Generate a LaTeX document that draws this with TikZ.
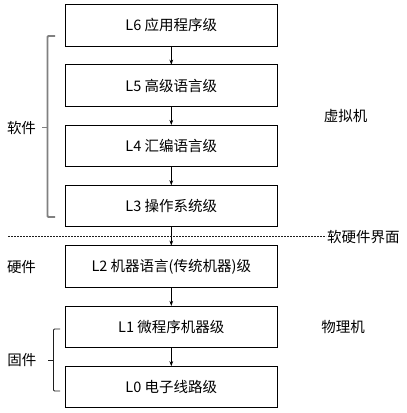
\documentclass[tikz,border=0pt]{standalone}
\usepackage{fontspec}
\setmainfont{Noto Sans CJK SC}
\usetikzlibrary{arrows.meta,positioning}
\definecolor{ColBrace}{RGB}{128,128,128}
\definecolor{ColLine}{RGB}{30,30,30}
\begin{document}
\begin{tikzpicture}[
  x=1pt, y=-1pt,
  >={Stealth[length=1.8mm,width=1.3mm]},
  line cap=butt,
  line join=miter,
  every node/.style={font=\fontsize{14.5}{17}\selectfont},
  level/.style={draw, line width=0.9pt, minimum width=212.5pt,
    minimum height=41.5pt, inner sep=0pt, outer sep=0pt},
  node distance=18.8pt
]
  \useasboundingbox (0,0) rectangle (407,413);

  % The seven levels
  \node[level] (L6) at (171.3,25.2) {L6 应用程序级};
  \node[level, below=of L6] (L5) {L5 高级语言级};
  \node[level, below=of L5] (L4) {L4 汇编语言级};
  \node[level, below=of L4] (L3) {L3 操作系统级};
  \node[level, below=of L3] (L2) {L2 机器语言(传统机器)级};
  \node[level, below=of L2] (L1) {L1 微程序机器级};
  \node[level, below=of L1] (L0) {L0 电子线路级};

  % Arrows down the stack
  \foreach \a/\b in {L6/L5, L5/L4, L4/L3, L3/L2, L2/L1, L1/L0}
    \draw[->, line width=0.8pt] (\a) -- (\b);

  % Software/hardware interface
  \coordinate (ifL) at (8,236.7);
  \coordinate (ifR) at (326,236.7);
  \draw[ColLine, line width=0.8pt, dash pattern=on 2pt off 1pt] (ifL) -- (ifR);
  \node[anchor=west, inner sep=1pt] (iface) at (ifR) {软硬件界面};

  % Software brace
  \draw[ColBrace, line width=1.8pt, rounded corners=1pt]
    (55,36) -- (47.5,36) -- (47.5,217) -- (55,217);
  \draw[ColBrace, line width=1.2pt] (47.5,127.7) -- (42,127.7);
  \node (sw) at (21.5,127.7) {软件};

  % Hardware
  \node (hw) at (21.5,267) {硬件};

  % Firmware brace
  \draw[ColLine, line width=0.9pt, rounded corners=1pt]
    (60,329) -- (53.5,329) -- (53.5,391) -- (60,391);
  \draw[ColLine, line width=0.9pt] (53.5,360.5) -- (48,360.5);
  \node (fw) at (22,360.5) {固件};

  % Machine kinds
  \node (vm) at (345.5,116) {虚拟机};
  \node (pm) at (343,327) {物理机};
\end{tikzpicture}
\end{document}
